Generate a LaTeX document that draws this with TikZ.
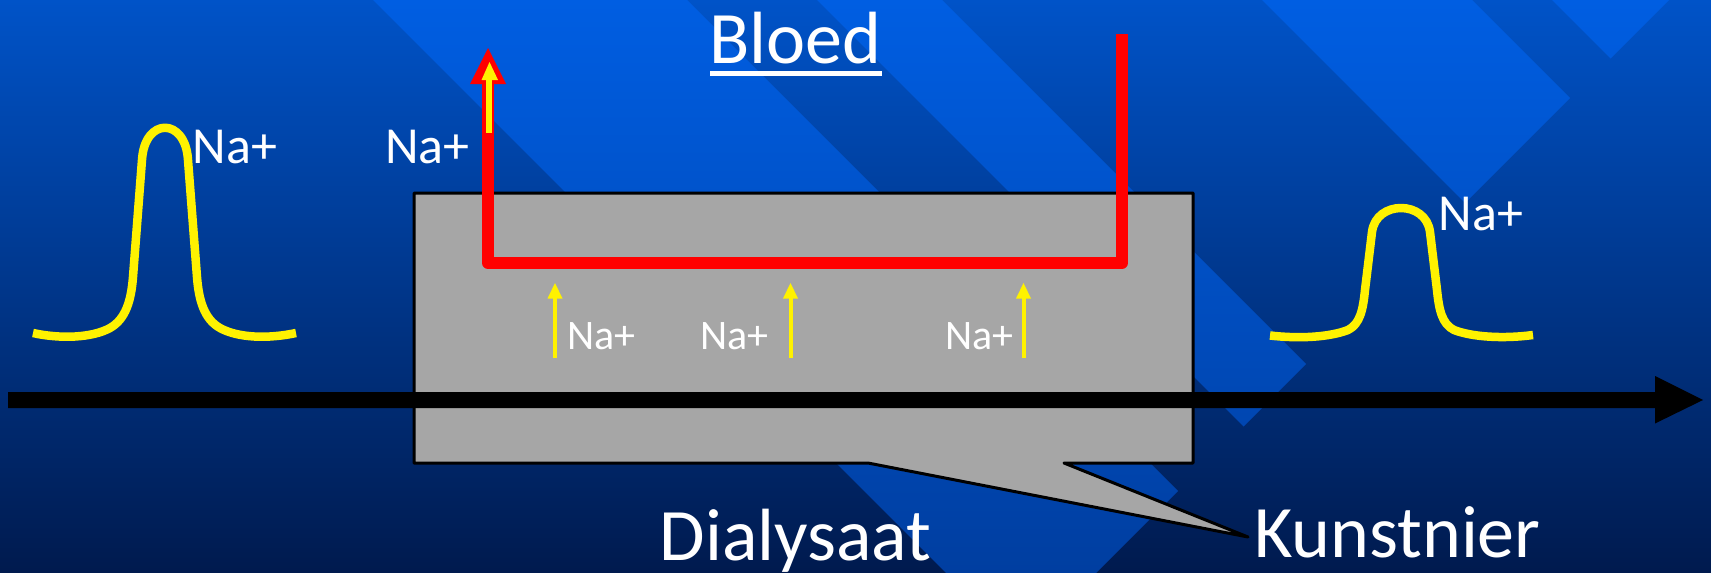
\documentclass[tikz,border=0pt]{standalone}
\usepackage{fontspec}
\setmainfont{Carlito}
\definecolor{bgtop}{RGB}{0,83,200}
\definecolor{bgbot}{RGB}{0,26,78}
\definecolor{sttop}{RGB}{0,94,226}
\definecolor{stbot}{RGB}{0,62,160}
\definecolor{boxgray}{RGB}{166,166,166}
\begin{document}
\begin{tikzpicture}[x=1pt,y=-1pt,
  bigtxt/.style={text=white,inner sep=0pt,anchor=base west,font=\fontsize{74}{88}\selectfont},
  natxt/.style={text=white,inner sep=0pt,anchor=base west,font=\fontsize{52}{62}\selectfont},
  nasmall/.style={text=white,inner sep=0pt,anchor=base west,font=\fontsize{42}{50}\selectfont},
  gauss/.style={draw=yellow,line width=8.5pt,line cap=butt,line join=round},
  redpipe/.style={draw=red,line width=12pt,line join=round,line cap=butt},
  yline/.style={draw=yellow,line width=4pt},
  boxst/.style={fill=boxgray,draw=black,line width=3pt,line join=round}]
\useasboundingbox (0,0) rectangle (1711,573);
% background
\shade[top color=bgtop,bottom color=bgbot] (0,0) rectangle (1711,573);
\begin{scope}
\clip (373,0) -- (687,0) -- (1178,491) -- (1096,573) -- (946,573) -- cycle
      (817,0) -- (942,0) -- (1306,364) -- (1243.5,426.5) -- cycle
      (1262,0) -- (1472,0) -- (1570,98) -- (1465,203) -- cycle
      (1552,0) -- (1669,0) -- (1610.5,58.5) -- cycle;
\shade[top color=sttop,bottom color=stbot] (0,0) rectangle (1711,573);
\end{scope}
% dialyser box with callout pointer
\coordinate (ptip) at (1248,537);
\draw[boxst] (414,193) -- (1193,193) -- (1193,463) -- (1064,463) -- (ptip) -- (868,463) -- (414,463) -- cycle;
% blood line
\coordinate (rtip) at (488,48);
\coordinate (rbase) at (488,82);
\coordinate (rc1) at (488,263);
\coordinate (rc2) at (1122,263);
\coordinate (rend) at (1122,34);
\draw[redpipe] (rbase) -- (rc1) -- (rc2) -- (rend);
\fill[red] (470,84) -- (rtip) -- (506,84) -- cycle;
% yellow arrow inside blood line
\coordinate (yts) at (489,133);
\coordinate (yte) at (489,79);
\draw[yellow,line width=6pt] (yts) -- (yte);
\fill[yellow] (481.5,80) -- (489.5,62) -- (498,80) -- cycle;
% small yellow arrows
\foreach \xx/\nm in {555/a,790.5/b,1023.5/c}{
  \coordinate (ys\nm) at (\xx,358);
  \coordinate (ye\nm) at (\xx,297);
  \draw[yline] (ys\nm) -- (ye\nm);
  \fill[yellow] (\xx-7.5,298.5) -- (\xx,283) -- (\xx+7.5,298.5) -- cycle;
}
% black flow arrow
\fill[black] (8,392) -- (1655,392) -- (1655,376) -- (1703,400) -- (1655,423.5) -- (1655,408) -- (8,408) -- cycle;
% gaussian curves
\draw[gauss] (33,333) .. controls (60,339) and (92,338) .. (110,328)
  .. controls (126,319) and (131.2,300) .. (133,277) -- (142,160)
  .. controls (144.5,117) and (185.5,117) .. (188,160) -- (197,277)
  .. controls (198.8,300) and (204,319) .. (220,328)
  .. controls (238,338) and (268,339) .. (296,333);
\draw[gauss] (1270,335.5) .. controls (1300,339) and (1330,337) .. (1348,330)
  .. controls (1360,324) and (1363,310) .. (1365,290) -- (1372,232)
  .. controls (1376,200) and (1426,200) .. (1430,232) -- (1437,290)
  .. controls (1439,310) and (1442,324) .. (1454,330)
  .. controls (1472,337) and (1503,339) .. (1533,335);
% texts
\node[bigtxt] (bloed) at (709.5,63.3) {Bloed};
\draw[white,line width=5.3pt] (710,73.3) -- (882,73.3);
\node[bigtxt] (dial) at (659.5,560) {Dialysaat};
\node[bigtxt] (kunst) at (1254,557.5) {Kunstnier};
\node[natxt] (na1) at (192.4,163) {Na+};
\node[natxt] (na2) at (385,163) {Na+};
\node[natxt] (na3) at (1438.7,230.7) {Na+};
\node[nasmall] (na4) at (567.2,349.8) {Na+};
\node[nasmall] (na5) at (700.5,349.8) {Na+};
\node[nasmall] (na6) at (944.8,349.8) {Na+};
\end{tikzpicture}
\end{document}
